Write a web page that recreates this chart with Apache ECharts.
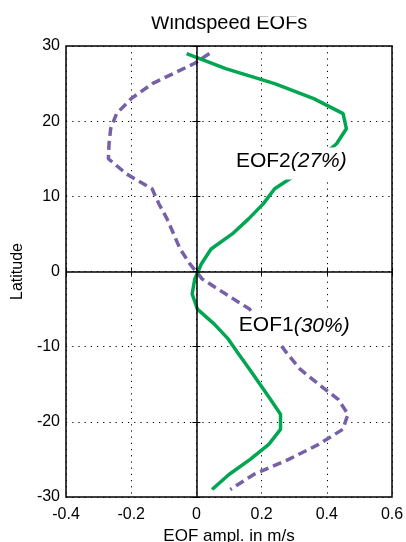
<!DOCTYPE html>
<html>
<head>
<meta charset="utf-8">
<script src="https://cdn.jsdelivr.net/npm/echarts@6/dist/echarts.min.js"></script>
<style>
  html, body { margin: 0; padding: 0; background: #fff; }
  #chart { width: 406px; height: 542px; }
</style>
</head>
<body>
<div id="chart"></div>
<script>
// EOF profiles of wind speed versus latitude
const eof1Lat = [29, 27.7, 25, 23, 21, 19, 17, 15, 13, 11, 9, 7, 5, 3, 1, -1, -3, -5, -7, -9, -11, -13, -15, -17, -19, -21, -23, -25, -27, -29];
const eof1Val = [0.04, -0.005, -0.135, -0.2, -0.245, -0.263, -0.268, -0.27, -0.215, -0.136, -0.115, -0.09, -0.07, -0.05, -0.02, 0.018, 0.09, 0.163, 0.205, 0.245, 0.28, 0.318, 0.375, 0.435, 0.465, 0.449, 0.375, 0.283, 0.176, 0.104];

const eof2Lat = [29, 27, 25, 23, 21, 19, 17, 15, 13, 11, 9, 7, 5, 3, 1, -1, -3, -5, -7, -9, -11, -13, -15, -17, -19, -21, -23, -25, -27, -29];
const eof2Val = [-0.03, 0.09, 0.24, 0.36, 0.45, 0.46, 0.43, 0.375, 0.31, 0.24, 0.205, 0.16, 0.11, 0.045, 0.015, -0.005, -0.013, 0.003, 0.055, 0.098, 0.13, 0.163, 0.195, 0.227, 0.258, 0.258, 0.222, 0.165, 0.1, 0.048];

const xTicks = { min: -0.4, max: 0.6, interval: 0.2 };
const yTicks = { min: -30, max: 30, interval: 10 };

const titleText = 'Windspeed EOFs';
const xName = 'EOF ampl. in m/s';
const yName = 'Latitude';
const eof1Label = { name: 'EOF1', pct: '(30%)', at: [0.124, -7.54] };
const eof2Label = { name: 'EOF2', pct: '(27%)', at: [0.115, 14.37] };

const FONT = '"Liberation Sans", Arial, Helvetica, sans-serif';

const pairs = (vals, lats) => vals.map((v, i) => [v, lats[i]]);

function labelPoint(l) {
  return {
    z: 10,
    symbol: 'circle',
    symbolSize: 0,
    silent: true,
    data: [{ coord: l.at }],
    label: {
      show: true,
      position: 'right',
      distance: 0,
      backgroundColor: '#fff',
      padding: [3, 2, 8, 2],
      formatter: '{n|' + l.name + '}{i|' + l.pct + '}',
      rich: {
        n: { fontSize: 21, color: '#000', fontFamily: FONT },
        i: { fontSize: 21, color: '#000', fontStyle: 'italic', fontFamily: FONT }
      }
    }
  };
}

const gridLine = { show: true, lineStyle: { color: '#000', width: 1, type: [1.2, 5] } };
const tickStyle = { show: true, inside: true, length: 4, lineStyle: { color: '#000', width: 1 } };

const chart = echarts.init(document.getElementById('chart'), null, { renderer: 'canvas' });
chart.setOption({
  animation: false,
  backgroundColor: '#fff',
  textStyle: { fontFamily: FONT },
  grid: {
    left: 66, right: 14, top: 46, bottom: 45,
    outerBoundsMode: 'none', containLabel: false,
    show: true, borderColor: '#000', borderWidth: 1.5, backgroundColor: '#fff'
  },
  xAxis: [
    {
      type: 'value', ...xTicks, position: 'bottom',
      axisLine: { show: false },
      axisTick: tickStyle,
      axisLabel: { fontSize: 16, color: '#000', margin: 10, fontFamily: FONT },
      splitLine: gridLine,
      name: xName, nameLocation: 'middle', nameGap: 26,
      nameTextStyle: { fontSize: 17, color: '#000', fontFamily: FONT }
    },
    {
      type: 'value', ...xTicks, position: 'top',
      axisLine: { show: false }, axisTick: tickStyle,
      axisLabel: { show: false }, splitLine: { show: false }
    }
  ],
  yAxis: [
    {
      type: 'value', ...yTicks, position: 'left',
      axisLine: { show: false },
      axisTick: tickStyle,
      axisLabel: { fontSize: 16, color: '#000', margin: 6, fontFamily: FONT },
      splitLine: gridLine,
      name: yName, nameLocation: 'middle', nameGap: 38, nameRotate: 90,
      nameTextStyle: { fontSize: 16, color: '#000', fontFamily: FONT }
    },
    {
      type: 'value', ...yTicks, position: 'right',
      axisLine: { show: false }, axisTick: tickStyle,
      axisLabel: { show: false }, splitLine: { show: false }
    }
  ],
  series: [
    {
      // zero reference lines
      type: 'line', data: [], z: 1, silent: true,
      markLine: {
        silent: true, symbol: 'none', animation: false,
        label: { show: false },
        lineStyle: { color: '#000', type: 'solid', width: 1.5 },
        data: [{ xAxis: 0 }, { yAxis: 0 }]
      }
    },
    {
      name: 'EOF1', type: 'line', z: 3,
      data: pairs(eof1Val, eof1Lat),
      showSymbol: false, symbol: 'none',
      lineStyle: { color: '#7660a6', width: 3.5, type: [9, 5] },
      markPoint: labelPoint(eof1Label)
    },
    {
      name: 'EOF2', type: 'line', z: 4,
      data: pairs(eof2Val, eof2Lat),
      showSymbol: false, symbol: 'none',
      lineStyle: { color: '#00a651', width: 3.5 },
      markPoint: labelPoint(eof2Label)
    }
  ],
  graphic: [
    {
      type: 'text', x: 229, y: 23, z: 50,
      style: { text: titleText, font: '20px ' + FONT, fill: '#000', textAlign: 'center', textVerticalAlign: 'middle' }
    },
    {
      // top edge of the canvas trims the title
      type: 'rect', z: 60, silent: true,
      shape: { x: 0, y: 0, width: 406, height: 16.5 },
      style: { fill: '#fff' }
    }
  ]
});
</script>
</body>
</html>
